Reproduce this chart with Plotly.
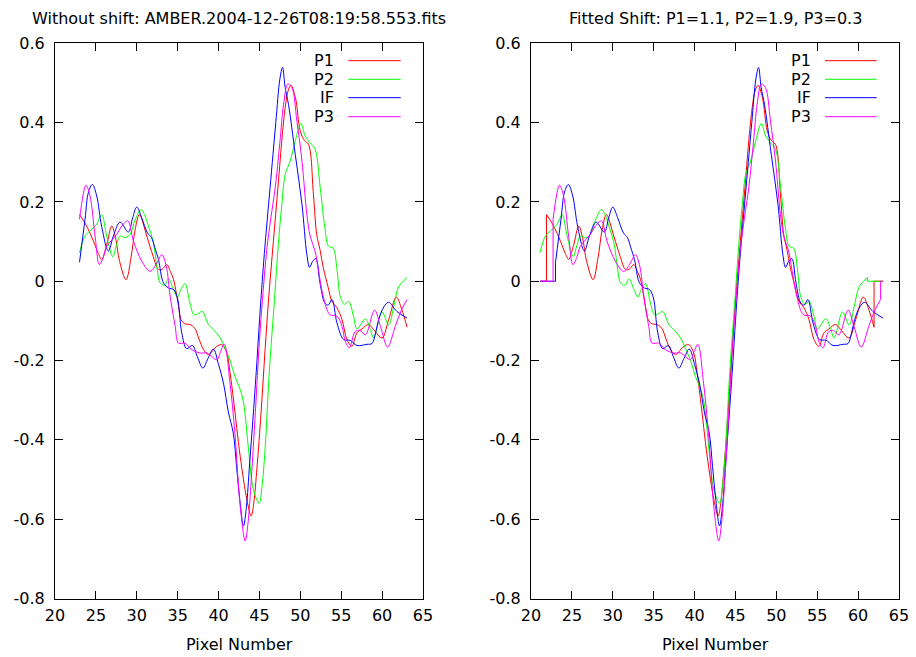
import plotly.graph_objects as go

# ---------------- data (left panel = raw) ----------------
SERIES = ["P1", "P2", "IF", "P3"]
COLORS = {"P1": "#ff0000", "P2": "#00ff00", "IF": "#0000ff", "P3": "#ff00ff"}
SHIFTS = {"P1": 1.1, "P2": 1.9, "IF": 0.0, "P3": 0.3}   # from the right-hand title

p1_x = [23.0, 23.88, 24.7, 25.3, 25.71, 26.3, 26.94, 27.4, 27.9, 28.69, 29.3, 29.8, 30.32,
        31.22, 32.0, 32.65, 33.1, 33.67, 34.1, 34.5, 35.0, 35.5, 36.0, 36.5, 37.1, 37.6,
        38.15, 38.76, 39.3, 39.78, 40.4, 41.0, 41.4, 41.83, 42.65, 43.47, 43.99, 44.3,
        44.7, 45.2, 45.7, 46.1, 46.7, 47.26, 47.8, 48.15, 48.5, 48.85, 49.4, 49.99, 50.5,
        51.0, 51.6, 52.0, 52.4, 52.8, 53.4, 53.85, 54.48, 55.1, 55.7, 56.3, 56.93, 57.54,
        58.35, 58.97, 59.99, 60.8, 61.74, 62.4, 63.05]
p1_y = [0.168, 0.139, 0.101, 0.07, 0.055, 0.09, 0.139, 0.11, 0.05, 0.004, 0.06, 0.13, 0.168,
        0.114, 0.063, 0.030, 0.03, 0.042, 0.025, 0.004, -0.05, -0.10, -0.108, -0.109, -0.119,
        -0.145, -0.172, -0.185, -0.175, -0.164, -0.160, -0.181, -0.23, -0.299, -0.442, -0.551,
        -0.592, -0.56, -0.47, -0.33, -0.17, -0.05, 0.1, 0.236, 0.37, 0.438, 0.48, 0.494,
        0.463, 0.379, 0.355, 0.345, 0.219, 0.118, 0.08, 0.035, -0.015, -0.05, -0.067,
        -0.097, -0.147, -0.164, -0.130, -0.120, -0.109, -0.122, -0.143, -0.097, -0.040,
        -0.071, -0.116]

p2_x = [23.0, 23.67, 24.49, 25.1, 25.71, 26.32, 27.06, 27.5, 27.96, 28.57, 29.18, 29.8, 30.53,
        31.0, 31.43, 32.04, 32.5, 32.85, 33.4, 33.87, 34.5, 34.97, 35.4, 35.9, 36.5, 37.0,
        37.5, 38.0, 38.76, 39.37, 40.2, 40.8, 41.42, 42.0, 42.65, 43.06, 43.67, 44.27, 44.97,
        45.3, 45.7, 46.2, 46.84, 47.3, 47.74, 48.15, 48.76, 49.38, 50.07, 50.6, 51.2, 51.8,
        52.43, 53.0, 53.45, 54.0, 54.48, 54.9, 55.4, 55.9, 56.5, 56.93, 57.95, 58.56, 58.97,
        59.99, 60.8, 61.43, 62.05, 63.05]
p2_y = [0.072, 0.114, 0.131, 0.144, 0.168, 0.114, 0.062, 0.09, 0.114, 0.110, 0.118, 0.155, 0.181,
        0.165, 0.139, 0.097, 0.03, -0.004, -0.01, 0.006, -0.021, -0.040, -0.02, -0.006, -0.055,
        -0.084, -0.082, -0.076, -0.109, -0.122, -0.143, -0.17, -0.200, -0.24, -0.273, -0.307,
        -0.425, -0.526, -0.560, -0.52, -0.42, -0.23, -0.046, 0.09, 0.194, 0.269, 0.303, 0.354,
        0.398, 0.366, 0.349, 0.333, 0.236, 0.135, 0.088, 0.084, 0.03, -0.04, -0.058, -0.051,
        -0.088, -0.120, -0.095, -0.122, -0.143, -0.078, -0.110, -0.063, -0.013, 0.009]

if_x = [23.0, 23.67, 24.1, 24.57, 25.1, 25.7, 26.53, 27.14, 27.96, 28.97, 29.5, 30.0, 30.6,
        31.3, 31.8, 32.2, 32.65, 33.26, 33.87, 34.5, 34.97, 35.5, 36.1, 36.8, 37.4, 38.08,
        38.7, 39.37, 40.0, 40.6, 41.2, 41.8, 42.2, 42.6, 43.05, 43.4, 43.8, 44.3, 44.7, 45.1,
        45.6, 46.3, 47.0, 47.5, 47.82, 48.15, 48.55, 49.38, 50.2, 50.8, 51.13, 51.5, 51.9,
        52.4, 53.0, 53.4, 53.87, 54.48, 55.3, 56.1, 56.93, 58.15, 58.77, 59.2, 59.57, 60.2,
        60.8, 61.8, 63.05]
if_y = [0.048, 0.156, 0.225, 0.244, 0.215, 0.139, 0.076, 0.114, 0.149, 0.124, 0.16, 0.187, 0.16,
        0.122, 0.110, 0.085, 0.055, -0.004, -0.017, -0.021, -0.042, -0.13, -0.170, -0.162, -0.19,
        -0.219, -0.195, -0.171, -0.21, -0.257, -0.33, -0.383, -0.467, -0.551, -0.617, -0.57,
        -0.46, -0.32, -0.2, -0.07, 0.07, 0.236, 0.40, 0.51, 0.539, 0.488, 0.446, 0.320, 0.194,
        0.067, 0.035, 0.05, 0.057, -0.004, -0.055, -0.06, -0.046, -0.105, -0.147, -0.149,
        -0.162, -0.159, -0.157, -0.13, -0.097, -0.065, -0.053, -0.076, -0.093]

p3_x = [23.0, 23.79, 24.28, 24.9, 25.43, 25.9, 26.32, 27.0, 27.55, 28.16, 28.9, 29.6, 30.6,
        31.63, 32.45, 33.06, 33.6, 34.08, 34.7, 35.1, 35.9, 36.7, 37.75, 38.6, 39.78, 40.2,
        40.7, 41.4, 42.0, 42.65, 43.26, 43.6, 44.0, 44.5, 45.0, 45.37, 45.9, 46.4, 46.93,
        47.5, 47.95, 48.47, 48.97, 49.58, 50.2, 50.8, 51.2, 51.8, 52.2, 52.8, 53.6, 54.48,
        55.1, 55.5, 56.0, 56.7, 57.3, 57.95, 59.08, 59.8, 60.68, 61.6, 62.4, 63.05]
p3_y = [0.156, 0.242, 0.215, 0.114, 0.042, 0.06, 0.088, 0.105, 0.118, 0.139, 0.152, 0.101, 0.051,
        0.025, 0.046, 0.067, 0.038, -0.038, -0.114, -0.156, -0.156, -0.172, -0.181, -0.181,
        -0.198, -0.18, -0.159, -0.257, -0.383, -0.568, -0.655, -0.61, -0.5, -0.33, -0.15,
        -0.046, 0.08, 0.16, 0.236, 0.35, 0.446, 0.497, 0.488, 0.404, 0.303, 0.168, 0.114,
        0.076, 0.030, -0.038, -0.084, -0.088, -0.114, -0.152, -0.168, -0.127, -0.124, -0.135,
        -0.073, -0.114, -0.166, -0.114, -0.071, -0.046]

DATA = {"P1": (p1_x, p1_y), "P2": (p2_x, p2_y), "IF": (if_x, if_y), "P3": (p3_x, p3_y)}

X_TICKS = [20, 25, 30, 35, 40, 45, 50, 55, 60, 65]
Y_TICKS = [-0.8, -0.6, -0.4, -0.2, 0, 0.2, 0.4, 0.6]
Y_TICKTEXT = ["-0.8", "-0.6", "-0.4", "-0.2", "0", "0.2", "0.4", "0.6"]
TITLE_LEFT = "Without shift: AMBER.2004-12-26T08:19:58.553.fits"
TITLE_RIGHT = "Fitted Shift: P1=1.1, P2=1.9, P3=0.3"
XLABEL = "Pixel Number"

# ---------------- figure ----------------
W, H = 916, 657
OFF = 8            # the page body adds an 8 px margin around the figure
FONT = "DejaVu Sans, Liberation Sans, Arial, sans-serif"
FS = 16
LW = 1.0


def px(v):   # window x pixel -> paper fraction
    return (v - OFF) / W


def py(v):   # window y pixel -> paper fraction
    return 1 - (v - OFF) / H


fig = go.Figure()

for s in SERIES:
    x, y = DATA[s]
    fig.add_trace(go.Scatter(x=x, y=y, mode="lines", line=dict(color=COLORS[s], width=LW, shape="spline"),
                             xaxis="x", yaxis="y", showlegend=False, hoverinfo="skip"))

shifted = {s: [v - SHIFTS[s] for v in DATA[s][0]] for s in SERIES}
grid_start = min(sx[0] for sx in shifted.values())
grid_end = max(sx[-1] for sx in shifted.values())
for s in SERIES:
    sx = shifted[s]
    sy = DATA[s][1]
    fig.add_trace(go.Scatter(x=sx, y=sy, mode="lines", line=dict(color=COLORS[s], width=LW, shape="spline"),
                             xaxis="x2", yaxis="y2", showlegend=False, hoverinfo="skip"))
    if sx[0] - grid_start > 0.05:
        fig.add_trace(go.Scatter(x=[grid_start, sx[0], sx[0]], y=[0, 0, sy[0]], mode="lines",
                                 line=dict(color=COLORS[s], width=LW), xaxis="x2", yaxis="y2",
                                 showlegend=False, hoverinfo="skip"))
    if grid_end - sx[-1] > 0.05:
        fig.add_trace(go.Scatter(x=[sx[-1], sx[-1], grid_end], y=[sy[-1], 0, 0], mode="lines",
                                 line=dict(color=COLORS[s], width=LW), xaxis="x2", yaxis="y2",
                                 showlegend=False, hoverinfo="skip"))

L1, R1 = px(55), px(423)
L2, R2 = px(531), px(899)
B, T = py(598.5), py(43.3)

axis_common = dict(showline=True, linecolor="black", linewidth=1, mirror="ticks", ticks="inside",
                   ticklen=8, tickwidth=1, tickcolor="black", showgrid=False, zeroline=False,
                   automargin=False, tickfont=dict(family=FONT, size=FS, color="black"))
xa = dict(axis_common, range=[20, 65], tickmode="array", tickvals=X_TICKS, ticklabelstandoff=2)
ya = dict(axis_common, range=[-0.8, 0.6], tickmode="array", tickvals=Y_TICKS, ticktext=Y_TICKTEXT,
          ticklabelstandoff=6)

fig.update_layout(
    template="none",
    width=W, height=H, margin=dict(l=0, r=0, t=0, b=0, autoexpand=False),
    paper_bgcolor="white", plot_bgcolor="white",
    font=dict(family=FONT, size=FS, color="black"),
    xaxis=dict(xa, domain=[L1, R1], anchor="y"),
    yaxis=dict(ya, domain=[B, T], anchor="x"),
    xaxis2=dict(xa, domain=[L2, R2], anchor="y2"),
    yaxis2=dict(ya, domain=[B, T], anchor="x2"),
    showlegend=False,
)

annotations = []
shapes = []
for (l, r, title) in [(L1, R1, TITLE_LEFT), (L2, R2, TITLE_RIGHT)]:
    c = (l + r) / 2
    annotations.append(dict(text=title, x=c, y=py(18), xref="paper", yref="paper",
                            xanchor="center", yanchor="middle", showarrow=False,
                            font=dict(family=FONT, size=FS, color="black")))
    annotations.append(dict(text=XLABEL, x=c, y=py(644), xref="paper", yref="paper",
                            xanchor="center", yanchor="middle", showarrow=False,
                            font=dict(family=FONT, size=FS, color="black")))

key_rows = [60.7, 79.3, 97.7, 116.7]
for (txt_r, ln_l, ln_r) in [(336, 348.3, 400.7), (812.7, 825, 876.7)]:
    for s, yy in zip(SERIES, key_rows):
        annotations.append(dict(text=s, x=px(txt_r), y=py(yy), xref="paper", yref="paper",
                                xanchor="right", yanchor="middle", showarrow=False,
                                font=dict(family=FONT, size=FS, color="black")))
        shapes.append(dict(type="line", xref="paper", yref="paper", x0=px(ln_l), x1=px(ln_r),
                           y0=py(yy), y1=py(yy), line=dict(color=COLORS[s], width=LW)))

fig.update_layout(annotations=annotations, shapes=shapes)
fig.write_html("out.html")
